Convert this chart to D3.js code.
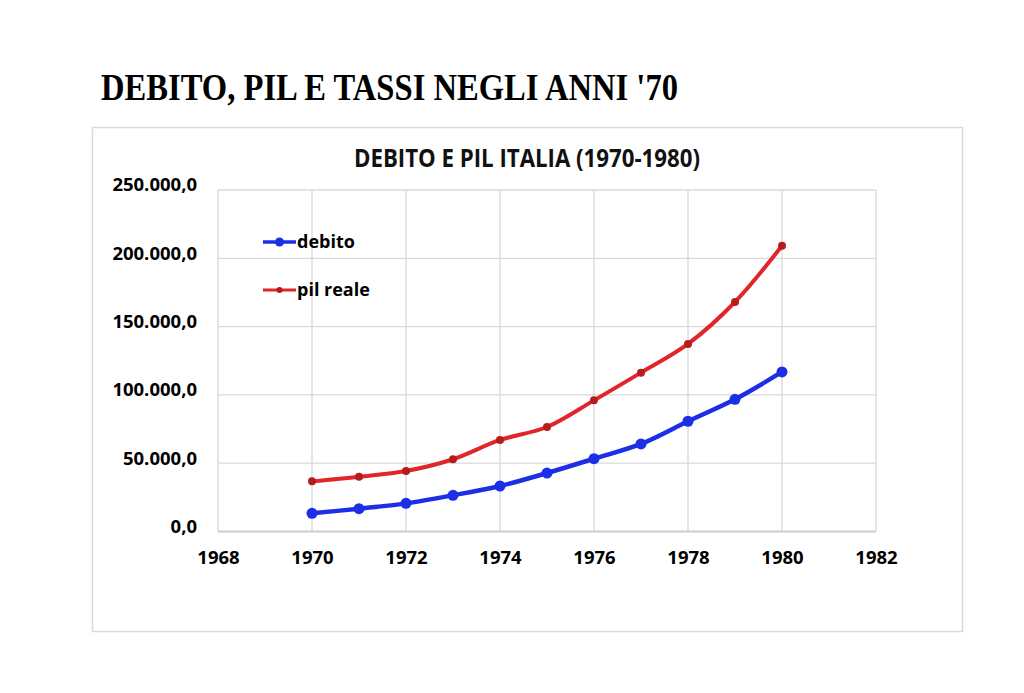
<!DOCTYPE html>
<html>
<head>
<meta charset="utf-8">
<script src="https://cdn.jsdelivr.net/npm/d3@7"></script>
<style>
  body { margin: 0; background: #fff; }
  svg { display: block; }
</style>
</head>
<body>
<div id="chart"></div>
<script>
// anni e valori
var years = [1970, 1971, 1972, 1973, 1974, 1975, 1976, 1977, 1978, 1979, 1980];
var debito = [13300, 16700, 20600, 26500, 33300, 42800, 53300, 64100, 80700, 96800, 116800];
var pilReale = [36700, 40100, 44300, 52900, 67000, 76500, 96000, 116300, 137300, 168000, 209200];
var xTicks = [1968, 1970, 1972, 1974, 1976, 1978, 1980, 1982];
var yTicks = [0, 50000, 100000, 150000, 200000, 250000];
var seriesNames = ["debito", "pil reale"];

var width = 1024, height = 693;
var plotLeft = 218, plotRight = 876, plotTop = 190, plotBottom = 531.5;

var it = d3.formatLocale({ decimal: ",", thousands: ".", grouping: [3], currency: ["€", ""] });
var fmt = it.format(",.1f");

var svg = d3.select("#chart").append("svg")
    .attr("width", width)
    .attr("height", height);

// titolo principale
svg.append("text")
    .attr("x", 101)
    .attr("y", 100)
    .attr("font-family", "Liberation Serif, DejaVu Serif, serif")
    .attr("font-weight", "bold")
    .attr("font-size", 38)
    .attr("textLength", 577)
    .attr("lengthAdjust", "spacingAndGlyphs")
    .attr("fill", "#000")
    .text("DEBITO, PIL E TASSI NEGLI ANNI '70");

// cornice del grafico
svg.append("rect")
    .attr("x", 92.5)
    .attr("y", 127.5)
    .attr("width", 870)
    .attr("height", 504)
    .attr("fill", "#fff")
    .attr("stroke", "#d9d9d9")
    .attr("stroke-width", 1.5);

svg.append("text")
    .attr("x", 527)
    .attr("y", 167)
    .attr("text-anchor", "middle")
    .attr("font-family", "Open Sans, Liberation Sans, sans-serif")
    .attr("font-weight", "bold")
    .attr("font-size", 25)
    .attr("textLength", 346)
    .attr("lengthAdjust", "spacingAndGlyphs")
    .attr("fill", "#111")
    .text("DEBITO E PIL ITALIA (1970-1980)");

var x = d3.scaleLinear().domain([1968, 1982]).range([plotLeft, plotRight]);
var y = d3.scaleLinear().domain([0, 250000]).range([plotBottom, plotTop]);

// griglia
var grid = svg.append("g").attr("stroke", "#d9d9d9").attr("stroke-width", 1.3);
grid.selectAll(".v")
    .data(xTicks)
    .enter().append("line")
    .attr("x1", function(d) { return x(d); })
    .attr("x2", function(d) { return x(d); })
    .attr("y1", y(250000))
    .attr("y2", y(0));
grid.selectAll(".h")
    .data(yTicks)
    .enter().append("line")
    .attr("x1", plotLeft)
    .attr("x2", plotRight)
    .attr("y1", function(d) { return y(d); })
    .attr("y2", function(d) { return y(d); });

// assi
var xAxis = svg.append("g")
    .attr("transform", "translate(0," + plotBottom + ")")
    .call(d3.axisBottom(x).tickValues(xTicks).tickFormat(d3.format("d")).tickSize(0).tickPadding(19));
var yAxis = svg.append("g")
    .attr("transform", "translate(" + plotLeft + ",0)")
    .call(d3.axisLeft(y).tickValues(yTicks).tickFormat(fmt).tickSize(0).tickPadding(21));
[xAxis, yAxis].forEach(function(a) {
    a.select(".domain").remove();
    a.selectAll("text")
        .attr("font-family", "Open Sans, Liberation Sans, sans-serif")
        .attr("font-weight", "bold")
        .attr("font-size", 18.5)
        .attr("fill", "#000");
});
yAxis.selectAll("text").attr("dy", "0.05em");
svg.append("line")
    .attr("x1", plotLeft).attr("x2", plotRight)
    .attr("y1", plotBottom).attr("y2", plotBottom)
    .attr("stroke", "#cfcfcf").attr("stroke-width", 2);

var line = d3.line()
    .x(function(d, i) { return x(years[i]); })
    .y(function(d) { return y(d); })
    .curve(d3.curveCatmullRom.alpha(0.5));

var series = [
    { name: seriesNames[0], values: debito, color: "#1c2fe6", marker: "#1c2fe6", width: 4.5, r: 5.5 },
    { name: seriesNames[1], values: pilReale, color: "#e0262a", marker: "#b51d1d", width: 4, r: 4 }
];

series.forEach(function(s) {
    svg.append("path")
        .datum(s.values)
        .attr("fill", "none")
        .attr("stroke", s.color)
        .attr("stroke-width", s.width)
        .attr("stroke-linejoin", "round")
        .attr("d", line);
    svg.selectAll(null)
        .data(s.values)
        .enter().append("circle")
        .attr("cx", function(d, i) { return x(years[i]); })
        .attr("cy", function(d) { return y(d); })
        .attr("r", s.r)
        .attr("fill", s.marker);
});

// legenda
var legend = svg.append("g");
series.forEach(function(s, i) {
    var ly = 242 + i * 48;
    legend.append("line")
        .attr("x1", 263).attr("x2", 296)
        .attr("y1", ly).attr("y2", ly)
        .attr("stroke", s.color)
        .attr("stroke-width", s.width - 1);
    legend.append("circle")
        .attr("cx", 279.5).attr("cy", ly)
        .attr("r", s.r - 1)
        .attr("fill", s.marker);
    legend.append("text")
        .attr("x", 297)
        .attr("y", ly + 6)
        .attr("font-family", "Open Sans, Liberation Sans, sans-serif")
        .attr("font-weight", "bold")
        .attr("font-size", 18)
        .attr("fill", "#000")
        .text(s.name);
});
</script>
</body>
</html>
